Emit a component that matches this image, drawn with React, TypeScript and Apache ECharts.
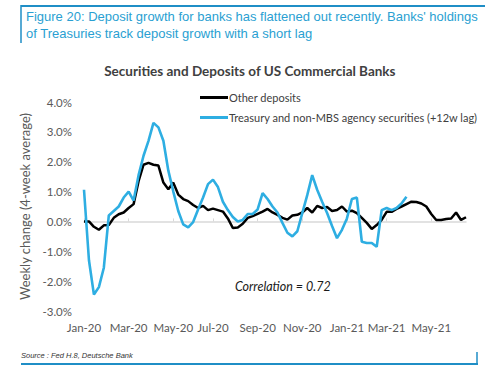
import React, { useEffect, useRef } from "react";
import * as echarts from "echarts";

// Weekly observation dates (Wednesdays), starting 1 Jan 2020, 78 weeks
const startDate = "2020-01-01";
const weekCount = 78;
const weeks: string[] = [];
{
  const d0 = new Date(startDate + "T00:00:00Z");
  for (let i = 0; i < weekCount; i++) {
    const d = new Date(d0.getTime() + i * 7 * 86400000);
    weeks.push(d.toISOString().slice(0, 10));
  }
}

const monthNames = ["Jan", "Feb", "Mar", "Apr", "May", "Jun", "Jul", "Aug", "Sep", "Oct", "Nov", "Dec"];
// months whose first week carries a tick label
const labelMonths = [0, 2, 4, 6, 8, 10];

// Other deposits, weekly change (4-week average), %
const otherDeposits: number[] = [
  0.0, 0.0, -0.18, -0.28, -0.13, -0.12, 0.12, 0.24, 0.3, 0.45,
  0.58, 1.35, 1.9, 1.96, 1.9, 1.87, 1.3, 1.08, 1.3, 0.9,
  0.75, 0.68, 0.55, 0.45, 0.52, 0.38, 0.43, 0.38, 0.33, 0.1,
  -0.22, -0.2, -0.08, 0.12, 0.18, 0.25, 0.33, 0.42, 0.3, 0.22,
  0.12, 0.06, 0.2, 0.22, 0.3, 0.45, 0.3, 0.52, 0.45, 0.48,
  0.35, 0.38, 0.5, 0.33, 0.36, 0.28, 0.12, -0.05, -0.25, -0.12,
  0.05, 0.32, 0.32, 0.42, 0.5, 0.58, 0.66, 0.65, 0.6, 0.5,
  0.25, 0.05, 0.05, 0.08, 0.1, 0.3, 0.05, 0.14,
];

// Treasury and non-MBS agency securities (+12w lag), %
const treasuries: (number | null)[] = [
  1.06, -1.3, -2.45, -2.2, -1.55, 0.2, 0.35, 0.5, 0.8, 1.0,
  0.7, 1.55, 2.2, 2.7, 3.3, 3.15, 2.7, 1.7, 1.0, 0.35,
  -0.1, -0.2, -0.02, 0.4, 0.8, 1.25, 1.4, 1.15, 0.66, 0.38,
  0.15, 0.0, 0.05, 0.25, 0.25, 0.4, 0.95, 0.75, 0.5, 0.3,
  -0.05, -0.38, -0.5, -0.33, 0.28, 0.88, 1.55, 1.06, 0.66, 0.28,
  -0.15, -0.56, -0.28, 0.1, 0.75, 0.8, -0.68, -0.72, -0.72, -0.85,
  0.38, 0.45, 0.38, 0.45, 0.6, 0.83,
];

const yTicks = { min: -3, max: 4, interval: 1 };

const figureTitle1 = "Figure 20: Deposit growth for banks has flattened out recently. Banks' holdings";
const figureTitle2 = "of Treasuries track deposit growth with a short lag";
const chartTitle = "Securities and Deposits of US Commercial Banks";
const seriesNames = ["Other deposits", "Treasury and non-MBS agency securities (+12w lag)"];
const yName = "Weekly change (4-week average)";
const note = "Correlation = 0.72";
const source = "Source : Fed H.8, Deutsche Bank";

const isLabelWeek = (idx: number) => {
  const d = new Date(weeks[idx] + "T00:00:00Z");
  return d.getUTCDate() <= 7 && labelMonths.includes(d.getUTCMonth());
};
const fmtWeek = (v: string) => {
  const d = new Date(v + "T00:00:00Z");
  return monthNames[d.getUTCMonth()] + "-" + String(d.getUTCFullYear()).slice(2);
};

const blue = "#2eaee2";
const frameBlue = "#1f8ec6";
const font = "Lato";

export default function App() {
  const ref = useRef<HTMLDivElement>(null);
  useEffect(() => {
    if (!ref.current) return;
    const chart = echarts.init(ref.current, null, { renderer: "svg" });
    chart.setOption({
      animation: false,
      backgroundColor: "#ffffff",
      textStyle: { fontFamily: font },
      grid: { left: 84, right: 34, top: 102, bottom: 58 },
      legend: {
        orient: "vertical",
        left: 195,
        top: 87,
        itemWidth: 28,
        itemHeight: 3,
        itemGap: 9,
        icon: "rect",
        textStyle: { fontSize: 11, color: "#404040", fontFamily: font, padding: [0, 0, 0, -4] },
        data: seriesNames,
      },
      xAxis: [
        {
          type: "category",
          data: weeks,
          boundaryGap: false,
          axisLine: { show: false, onZero: false },
          axisTick: { show: false },
          axisLabel: {
            interval: (i: number) => isLabelWeek(i),
            formatter: (v: string) => fmtWeek(v),
            color: "#595959",
            fontSize: 11.5,
            margin: 10,
            fontFamily: font,
          },
          splitLine: { show: false },
        },
        {
          type: "category",
          data: weeks,
          boundaryGap: false,
          position: "bottom",
          axisLine: { show: true, onZero: true, lineStyle: { color: "#d9d9d9", width: 1.5 } },
          axisTick: {
            show: true,
            inside: true,
            length: 3,
            interval: (i: number) => isLabelWeek(i),
            lineStyle: { color: "#d9d9d9" },
          },
          axisLabel: { show: false },
          splitLine: { show: false },
        },
      ],
      yAxis: {
        type: "value",
        min: yTicks.min,
        max: yTicks.max,
        interval: yTicks.interval,
        axisLine: { show: false },
        axisTick: { show: false },
        splitLine: { show: false },
        axisLabel: {
          formatter: (v: number) => v.toFixed(1) + "%",
          color: "#595959",
          fontSize: 11.5,
          margin: 12,
          fontFamily: font,
        },
        name: yName,
        nameLocation: "middle",
        nameGap: 48,
        nameTextStyle: { color: "#595959", fontSize: 13, fontFamily: font },
      },
      series: [
        {
          name: seriesNames[0],
          type: "line",
          data: otherDeposits,
          symbol: "none",
          lineStyle: { color: "#000000", width: 2.5 },
          itemStyle: { color: "#000000" },
        },
        {
          name: seriesNames[1],
          type: "line",
          data: treasuries,
          symbol: "none",
          lineStyle: { color: blue, width: 2.6 },
          itemStyle: { color: blue },
        },
      ],
      graphic: [
        { type: "line", shape: { x1: 21, y1: 6, x2: 485, y2: 6 }, style: { stroke: frameBlue, lineWidth: 2 } },
        { type: "line", shape: { x1: 21, y1: 5, x2: 21, y2: 43 }, style: { stroke: frameBlue, lineWidth: 1.5 } },
        {
          type: "text",
          left: 26,
          top: 10,
          style: { text: figureTitle1, fill: "#2a9fd2", font: "13px 'Liberation Sans'" },
        },
        {
          type: "text",
          left: 26,
          top: 27,
          style: { text: figureTitle2, fill: "#2a9fd2", font: "13px 'Liberation Sans'" },
        },
        {
          type: "text",
          left: "center",
          top: 64,
          style: { text: chartTitle, fill: "#404040", font: "bold 13.5px Lato" },
        },
        {
          type: "text",
          left: 235,
          top: 280,
          style: { text: note, fill: "#1a1a1a", font: "italic 12.5px Lato" },
        },
        {
          type: "text",
          left: 21,
          top: 351,
          style: { text: source, fill: "#333333", font: "italic 7.5px 'Liberation Sans'" },
        },
        { type: "line", shape: { x1: 21, y1: 364, x2: 478, y2: 364 }, style: { stroke: frameBlue, lineWidth: 2 } },
        { type: "line", shape: { x1: 477, y1: 352, x2: 477, y2: 365 }, style: { stroke: frameBlue, lineWidth: 1.5 } },
      ],
    });
    return () => chart.dispose();
  }, []);
  return (
    <div
      ref={ref}
      style={{ position: "fixed", left: 0, top: 0, width: 500, height: 369, background: "#fff" }}
    />
  );
}
